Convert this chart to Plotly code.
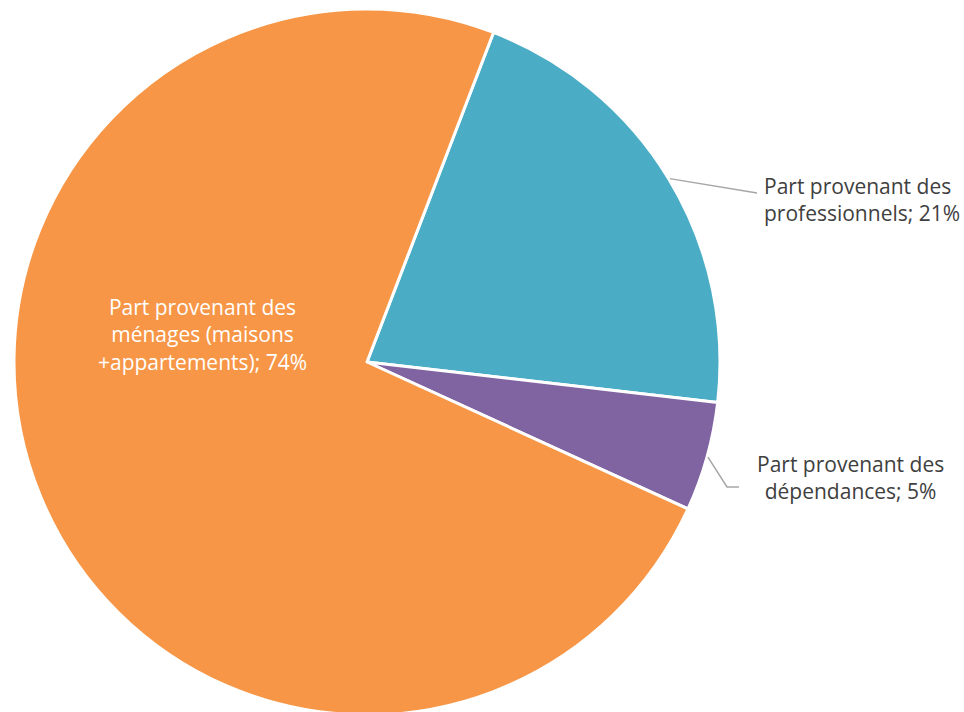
import math
import plotly.graph_objects as go

# parts of the total, in drawing order (clockwise from the top)
labels = ["Part provenant des<br>professionnels", "Part provenant des<br>dépendances",
          "Part provenant des<br>ménages (maisons<br>+appartements)"]
values = [21, 5, 74]
colors = ["#4BACC6", "#8064A2", "#F79646"]

# figure is a few px taller than the window so the bottom of the pie is cut like the original
W, H = 964, 716
cx, cy, r = 367, 362, 353
rotation = 21

fig = go.Figure()
fig.add_trace(go.Pie(
    labels=labels, values=values, sort=False, direction="clockwise",
    rotation=rotation, textinfo="none", hoverinfo="label+percent",
    marker=dict(colors=colors, line=dict(color="white", width=3)),
    domain=dict(x=[(cx - r) / W, (cx + r) / W], y=[max(0, 1 - (cy + r) / H), 1 - (cy - r) / H]),
    showlegend=False,
))

total = sum(values)
start = rotation
mids = []
for v in values:
    mids.append(start + 360 * v / total / 2)
    start += 360 * v / total

def edge(angle, rad):
    a = math.radians(angle)
    return cx + rad * math.sin(a), cy - rad * math.cos(a)

def px(x, y):
    return x / W, 1 - y / H

text_font = dict(family="Open Sans, sans-serif", size=21)
line_style = dict(color="#A6A6A6", width=1.5)

# professionnels
x0, y0 = edge(mids[0], r + 1)
(ax, ay), (bx, by) = px(x0, y0), px(757, 193)
fig.add_shape(type="line", xref="paper", yref="paper", x0=ax, y0=ay, x1=bx, y1=by, line=line_style)
tx, ty = px(762, 199)
fig.add_annotation(x=tx, y=ty, xref="paper", yref="paper", xanchor="left",
                   yanchor="middle", align="left", showarrow=False,
                   text=f"{labels[0]}; {values[0]}%", font=dict(color="#404040", **text_font))

# dépendances
x0, y0 = edge(mids[1], r + 1)
(ax, ay), (bx, by), (ex, ey) = px(x0, y0), px(727, 487), px(739, 487)
fig.add_shape(type="path", xref="paper", yref="paper",
              path=f"M {ax} {ay} L {bx} {by} L {ex} {ey}", line=line_style)
tx, ty = px(755, 477)
fig.add_annotation(x=tx, y=ty, xref="paper", yref="paper", xanchor="left",
                   yanchor="middle", align="center", showarrow=False,
                   text=f"{labels[1]}; {values[1]}%", font=dict(color="#404040", **text_font))

# ménages
tx, ty = px(202, 335)
fig.add_annotation(x=tx, y=ty, xref="paper", yref="paper", xanchor="center",
                   yanchor="middle", align="center", showarrow=False,
                   text=f"{labels[2]}; {values[2]}%", font=dict(color="white", **text_font))

fig.update_layout(width=W, height=H, margin=dict(l=0, r=0, t=0, b=0),
                  paper_bgcolor="white", plot_bgcolor="white")
fig.write_html("out.html", config={"displayModeBar": False},
               post_script="document.body.style.margin='0';document.body.style.overflow='hidden';")
